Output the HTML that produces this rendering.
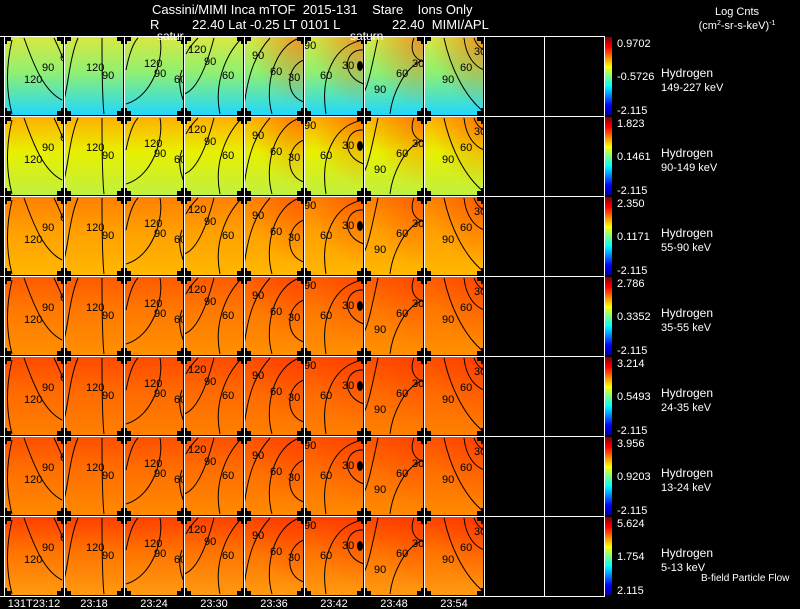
<!DOCTYPE html>
<html><head><meta charset="utf-8"><style>
body{margin:0;background:#000;width:800px;height:609px;overflow:hidden;font-family:"Liberation Sans",sans-serif;}
svg{display:block}
text{font-family:"Liberation Sans",sans-serif;fill:#fff;white-space:pre;}
</style></head><body>
<svg id="c" width="800" height="609" viewBox="0 0 800 609">
<defs>
<linearGradient id="jet" x1="0" y1="1" x2="0" y2="0">
<stop offset="0" stop-color="#00008f"/><stop offset="0.12" stop-color="#0000ff"/><stop offset="0.37" stop-color="#00ffff"/><stop offset="0.5" stop-color="#80ff80"/><stop offset="0.62" stop-color="#ffff00"/><stop offset="0.87" stop-color="#ff0000"/><stop offset="1" stop-color="#800000"/>
</linearGradient>
<radialGradient id="hot" cx="1" cy="0" r="0.9">
<stop offset="0" stop-color="#ff3000" stop-opacity="0.45"/><stop offset="1" stop-color="#ff3000" stop-opacity="0"/>
</radialGradient>
</defs>
<text x="152" y="14" font-size="13" xml:space="preserve">Cassini/MIMI Inca mTOF  2015-131    Stare    Ions Only</text>
<text x="150" y="29" font-size="13">R</text>
<text x="192" y="29" font-size="13" xml:space="preserve">22.40 Lat -0.25 LT 0101 L</text>
<text x="392" y="29" font-size="13" xml:space="preserve">22.40  MIMI/APL</text>
<text x="737" y="15" font-size="11" text-anchor="middle">Log Cnts</text>
<text x="737" y="29" font-size="11" text-anchor="middle">(cm<tspan font-size="7" dy="-4">2</tspan><tspan dy="4">-sr-s-keV)</tspan><tspan font-size="7" dy="-4">-1</tspan></text>
<g id="panels"></g>
<text x="157" y="40" font-size="12">satur</text>
<text x="350" y="40" font-size="12">saturn</text>
<text x="701" y="581" font-size="10">B-field Particle Flow</text>
</svg>
<script>
const times = ["131T23:12","23:18","23:24","23:30","23:36","23:42","23:48","23:54"];
const species = ["149-227 keV","90-149 keV","55-90 keV","35-55 keV","24-35 keV","13-24 keV","5-13 keV"];
const cbTop = ["0.9702","1.823","2.350","2.786","3.214","3.956","5.624"];
const cbMid = ["-0.5726","0.1461","0.1171","0.3352","0.5493","0.9203","1.754"];
const cbBot = ["-2.115","-2.115","-2.115","-2.115","-2.115","-2.115","2.115"];
const rowTopColor = ["#d8e840","#ffb000","#ff8000","#ff5a00","#ff4a00","#ff5000","#ff4000"];
const rowMidColor = ["#90f070","#e8f000","#ffa000","#ff7a00","#ff6a00","#ff7000","#ff7400"];
const rowBotColor = ["#20d8ff","#c0f040","#ffb800","#ff9000","#ff8000","#ff8a00","#ff9a10"];
const contours = [
 [["M8,4 C2,30 2,55 8,78","120",20,42],["M20,2 C30,30 40,55 58,64","90",38,30],["M50,2 C54,10 57,18 60,24","60",56,20]],
 [["M14,2 C6,20 4,50 0,64","120",22,30],["M38,2 C38,30 38,60 40,78","90",38,38]],
 [["M2,34 C6,14 10,6 14,2","120",20,26],["M36,2 C40,20 30,60 2,68","90",30,36],["M58,34 C54,44 56,56 60,66","60",50,42]],
 [["M14,2 C8,8 4,14 2,18","120",4,12],["M30,2 C20,40 10,55 0,58","90",20,24],["M58,2 C40,20 30,50 36,78","60",38,38]],
 [["M26,2 C10,20 4,40 0,70","90",8,18],["M56,2 C30,10 20,50 28,78","60",26,34],["M60,24 C42,30 40,60 60,66","30",44,40]],
 [["M2,2 C2,2 4,2 6,2","90",0,8],["M60,4 C30,8 16,40 22,78","60",16,38],["M60,14 C40,12 36,40 60,48","30",38,28]],
 [["M14,2 C8,30 4,50 0,56","90",10,52],["M60,24 C40,30 28,60 26,78","60",32,36],["M50,2 C46,12 48,22 60,26","30",48,26]],
 [["M20,2 C26,30 40,60 60,76","90",18,42],["M40,2 C42,20 50,30 60,34","60",36,30],["M50,2 C52,8 56,12 60,14","30",50,14]]
];
const NS="http://www.w3.org/2000/svg";
const g=document.getElementById('panels');
const defs=document.querySelector('defs');
function el(t,a,p){const e=document.createElementNS(NS,t);for(const k in a)e.setAttribute(k,a[k]);(p||g).appendChild(e);return e;}
const x0=4,y0=36,cw=60,rh=80,nCols=10;
for(let r=0;r<species.length;r++){
  const lg=el('linearGradient',{id:'rg'+r,x1:0,y1:0,x2:0,y2:1},defs);
  el('stop',{offset:0,'stop-color':rowTopColor[r]},lg);
  el('stop',{offset:0.45,'stop-color':rowMidColor[r]},lg);
  el('stop',{offset:1,'stop-color':rowBotColor[r]},lg);
  const ty=y0+r*rh;
  for(let c=0;c<times.length;c++){
    const tx=x0+c*cw;
    const pg=el('g',{transform:`translate(${tx},${ty})`});
    
    
    el('rect',{x:1,y:1,width:cw-2,height:rh-2,fill:'url(#rg'+r+')'},pg);
    if(c>=4) el('rect',{x:1,y:1,width:cw-2,height:rh-2,fill:'url(#hot)'},pg);
    contours[c].forEach(k=>{
      el('path',{d:k[0],fill:'none',stroke:'#000','stroke-width':1},pg);
      const t=el('text',{x:k[2],y:k[3]+5,'font-size':11,style:'fill:#000'},pg);
      t.textContent=k[1];
    });
    if(c==5) el('ellipse',{cx:56,cy:30,rx:3,ry:5,fill:'#000'},pg);
  }
  const cb=el('rect',{x:605,y:ty+1,width:7,height:rh-2,fill:'url(#jet)'});
  
  
  const vals=[[cbTop[r],ty+11],[cbMid[r],ty+44],[cbBot[r],ty+78]];
  vals.forEach(v=>{const t=el('text',{x:617,y:v[1],'font-size':11});t.textContent=v[0];
    
    });
  const s1=el('text',{x:661,y:ty+41,'font-size':12});s1.textContent='Hydrogen';
  
  
  const s2=el('text',{x:661,y:ty+55,'font-size':11});s2.textContent=species[r];
  
  
}
for(let c=0;c<=nCols;c++){el('line',{x1:x0+c*cw+0.5,y1:y0,x2:x0+c*cw+0.5,y2:y0+7*rh,stroke:'#fff','stroke-width':1});}
for(let r=0;r<=7;r++){el('line',{x1:x0,y1:y0+r*rh+0.5,x2:x0+nCols*cw+1,y2:y0+r*rh+0.5,stroke:'#fff','stroke-width':1});}
for(let r=0;r<=7;r++)for(let c=0;c<=8;c++){
  const cx=x0+c*cw,cy=y0+r*rh;
  const top=(r==0)?cy:cy-5, bot=(r==7)?cy:cy+5;
  el('rect',{x:cx-7,y:top,width:14,height:bot-top,fill:'#000'});
  el('rect',{x:cx-3,y:(r==0)?cy:cy-8,width:6,height:((r==7)?cy:cy+8)-((r==0)?cy:cy-8),fill:'#000'});
  el('line',{x1:cx+0.5,y1:(r==0)?cy:cy-8,x2:cx+0.5,y2:(r==7)?cy:cy+8,stroke:'#fff'});
  el('line',{x1:cx-7,y1:cy+0.5,x2:cx+7,y2:cy+0.5,stroke:'#fff'});
}
times.forEach((t,c)=>{const e=el('text',{x:x0+c*cw+30,y:607,'font-size':11,'text-anchor':'middle'});e.textContent=t;
  
  });
</script>
</body></html>
